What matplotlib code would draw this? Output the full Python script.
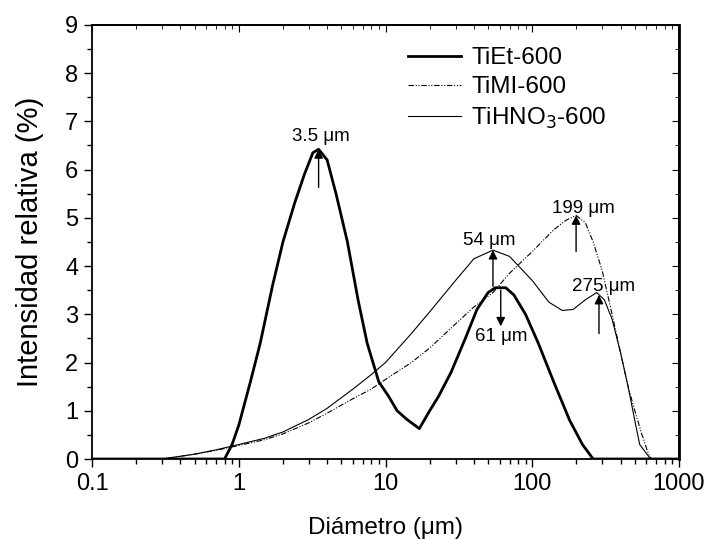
import matplotlib.pyplot as plt
from matplotlib.ticker import LogLocator, NullFormatter, MultipleLocator, FixedLocator, FixedFormatter

plt.rcParams['font.family'] = ['Liberation Sans', 'DejaVu Sans']

# TiEt-600
d_et = [0.1, 0.8, 0.9, 1.0, 1.2, 1.4, 1.7, 2.0, 2.4, 2.8, 3.2, 3.5, 4.0, 4.6,
        5.5, 6.5, 7.5, 9.0, 10.5, 12, 14, 17, 20, 23, 28, 35, 42, 50, 56, 66,
        75, 90, 110, 140, 180, 220, 260, 1000]
i_et = [0, 0, 0.3, 0.7, 1.6, 2.4, 3.6, 4.5, 5.3, 5.9, 6.35, 6.42, 6.2, 5.5,
        4.5, 3.3, 2.4, 1.6, 1.3, 1.0, 0.82, 0.63, 1.0, 1.3, 1.8, 2.5, 3.1, 3.45,
        3.55, 3.55, 3.4, 3.0, 2.4, 1.6, 0.8, 0.3, 0, 0]

# TiMI-600
d_mi = [0.1, 0.3, 0.5, 0.7, 1.0, 1.5, 2.0, 3.0, 4.0, 6.0, 8.0, 10, 15, 20, 30,
        40, 54, 70, 100, 140, 170, 199, 230, 260, 300, 350, 400, 450, 500, 560,
        620, 650, 1000]
i_mi = [0, 0, 0.1, 0.18, 0.28, 0.4, 0.52, 0.75, 0.95, 1.25, 1.45, 1.65, 2.0,
        2.3, 2.8, 3.15, 3.45, 3.85, 4.3, 4.75, 4.95, 5.05, 4.9, 4.5, 3.9, 3.0,
        2.2, 1.5, 1.0, 0.5, 0.1, 0, 0]

# TiHNO3-600
d_hno = [0.1, 0.3, 0.5, 0.7, 1.0, 1.5, 2.0, 3.0, 4.0, 6.0, 8.0, 10, 15, 20, 30,
         40, 54, 70, 100, 130, 160, 190, 230, 275, 310, 350, 400, 450, 500, 540,
         640, 1000]
i_hno = [0, 0, 0.1, 0.19, 0.3, 0.43, 0.56, 0.82, 1.05, 1.45, 1.75, 2.0, 2.6,
         3.05, 3.7, 4.15, 4.33, 4.2, 3.7, 3.25, 3.08, 3.1, 3.3, 3.45, 3.3, 2.9,
         2.2, 1.5, 0.8, 0.3, 0, 0]

# peak annotations: label, x, arrow tail y, arrow tip y, text x, text y
peaks = [("3.5 μm", 3.5, 5.63, 6.42, 3.6, 6.69),
         ("54 μm", 54, 3.58, 4.33, 51, 4.53),
         ("61 μm", 61, 3.5, 2.75, 61.5, 2.53),
         ("199 μm", 199, 4.3, 5.05, 222, 5.2),
         ("275 μm", 285, 2.6, 3.4, 308, 3.58)]

fig = plt.figure(figsize=(7.08, 5.4), dpi=100)
ax = fig.add_axes([0.130, 0.15, 0.829, 0.804])

ax.plot(d_et, i_et, color='black', lw=2.0, label='TiEt-600')
ax.plot(d_mi, i_mi, color='black', lw=0.8, linestyle=(0, (5, 1.5, 1, 1.5, 1, 1.5)), label='TiMI-600')
ax.plot(d_hno, i_hno, color='black', lw=0.8, label='TiHNO$_3$-600')

for lab, x, y0, y1, tx, ty in peaks:
    ax.annotate('', xy=(x, y1), xytext=(x, y0),
                arrowprops=dict(arrowstyle='-|>', color='black', lw=1.0, mutation_scale=13,
                                shrinkA=0, shrinkB=0))
    ax.text(tx, ty, lab, ha='center', va='center', fontsize=13.5)

ax.set_xscale('log')
ax.set_xlim(0.1, 1000)
ax.set_ylim(0, 9)
ax.xaxis.set_major_locator(FixedLocator([0.1, 1, 10, 100, 1000]))
ax.xaxis.set_major_formatter(FixedFormatter(['0.1', '1', '10', '100', '1000']))
ax.xaxis.set_minor_locator(LogLocator(base=10, subs=range(2, 10)))
ax.xaxis.set_minor_formatter(NullFormatter())
ax.yaxis.set_major_locator(MultipleLocator(1))
ax.yaxis.set_minor_locator(MultipleLocator(0.5))

ax.tick_params(which='both', direction='out', top=False, right=False, labelsize=17, width=1.0)
ax.tick_params(which='major', length=6, pad=4)
ax.tick_params(which='minor', length=3.5)
sec_x = ax.secondary_xaxis('top')
sec_x.set_xticks([0.1, 1, 10, 100, 1000])
sec_x.xaxis.set_minor_locator(LogLocator(base=10, subs=range(2, 10)))
sec_x.tick_params(which='both', direction='in', labeltop=False)
sec_x.tick_params(which='major', length=5)
sec_x.tick_params(which='minor', length=3)
sec_y = ax.secondary_yaxis('right')
sec_y.yaxis.set_major_locator(MultipleLocator(1))
sec_y.yaxis.set_minor_locator(MultipleLocator(0.5))
sec_y.tick_params(which='both', direction='in', labelright=False)
sec_y.tick_params(which='major', length=5)
sec_y.tick_params(which='minor', length=3)
for s in ax.spines.values():
    s.set_linewidth(1.3)
sec_x.spines['top'].set_linewidth(1.3)
sec_y.spines['right'].set_linewidth(2.0)

ax.set_xlabel('Diámetro (μm)', fontsize=17.5, labelpad=16)
ax.set_ylabel('Intensidad relativa (%)', fontsize=21, labelpad=15)

ax.legend(loc='upper left', bbox_to_anchor=(408 / 708, 1 - 47 / 540), bbox_transform=fig.transFigure,
          frameon=False, fontsize=17.5, borderpad=0, borderaxespad=0,
          handlelength=2.2, handletextpad=0.4, labelspacing=0.3)

fig.savefig('out.png', dpi=100)
